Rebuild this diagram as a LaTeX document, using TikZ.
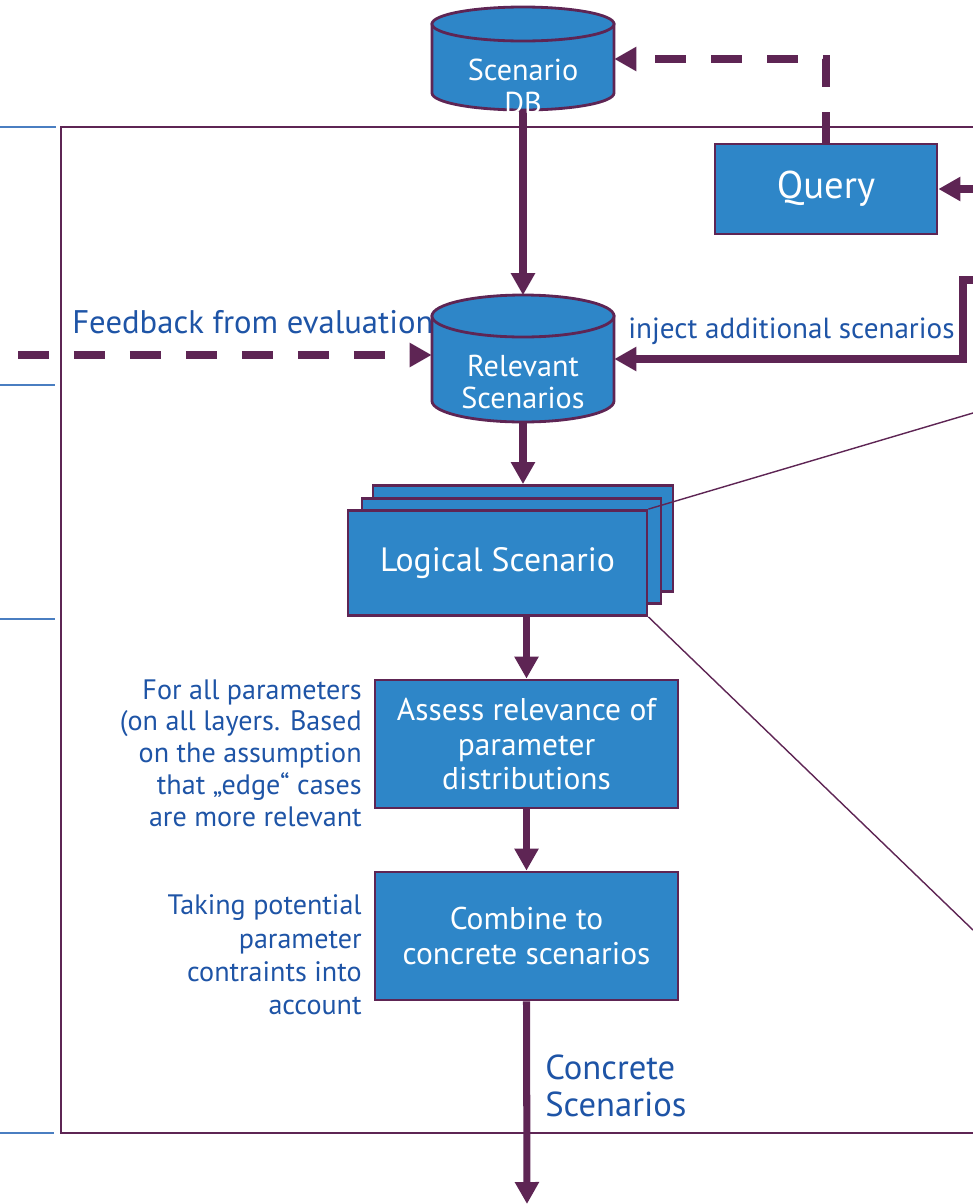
\documentclass[tikz,border=0pt]{standalone}
\usepackage{fontspec}
\setmainfont{PT Sans}
\usetikzlibrary{arrows.meta}
\definecolor{plum}{RGB}{94,37,84}
\definecolor{boxblue}{RGB}{46,134,200}
\definecolor{noteblue}{RGB}{30,84,166}
\definecolor{rulerblue}{RGB}{74,126,193}

\begin{document}
\begin{tikzpicture}[x=0.02cm,y=-0.02cm,
  box/.style={draw=plum, line width=1.6pt, fill=boxblue, text=white, align=center, inner sep=0pt},
  flow/.style={draw=plum, line width=4pt, -{Triangle[length=0.44cm,width=0.46cm]}},
  dashflow/.style={flow, dash pattern=on 0.62cm off 0.5cm},
  thinline/.style={draw=plum, line width=0.8pt},
  frame/.style={draw=plum, line width=1.4pt},
  ruler/.style={draw=rulerblue, line width=0.9pt},
  note/.style={text=noteblue, inner sep=0pt},
  cyl/.style={draw=plum, line width=1.6pt, fill=boxblue},
  holder/.style={inner sep=0pt, minimum width=3.64cm},
  cyltext/.style={text=white, align=center, inner sep=0pt}
]
\useasboundingbox (0,0) rectangle (973,1204);

% outer frame and the side rulers
\draw[frame] (973,127) -- (61,127) -- (61,1133) -- (973,1133);
\draw[ruler] (0,127) -- (56,127);
\draw[ruler] (0,385) -- (55,385);
\draw[ruler] (0,619) -- (55,619);
\draw[ruler] (0,1133) -- (54,1133);

% placeholders giving the two databases their extent
\node[holder, minimum height=2.04cm] (sdb) at (523,59) {};
\node[holder, minimum height=2.54cm] (rel) at (523,359) {};

% free ends of the connectors
\coordinate (qsrc) at (973,189);
\coordinate (injsrc) at (973,280);
\coordinate (fbsrc) at (18,355);
\coordinate (outend) at (527,1204);
\coordinate (zoomA) at (973,413);
\coordinate (zoomB) at (973,930);

% labels
\node[note, anchor=base west, font=\fontsize{18.6}{22}\selectfont] (fblabel) at (72,333) {Feedback from evaluation};
\node[note, anchor=base west, font=\fontsize{16.6}{19}\selectfont] (injlabel) at (628,338) {inject additional scenarios};
\node[note, anchor=east, align=right, font=\fontsize{16}{18.1}\selectfont] (note1) at (362,753)
  {For all parameters\\(on all layers. Based\\on the assumption\\that „edge“ cases\\are more relevant};
\node[note, anchor=east, align=right, font=\fontsize{16}{18.9}\selectfont] (note2) at (362,955)
  {Taking potential\\parameter\\contraints into\\account};
\node[note, anchor=west, align=left, font=\fontsize{19.7}{21}\selectfont] (outlabel) at (545,1086)
  {Concrete\\Scenarios};

% process boxes
\node[box, minimum width=4.44cm, minimum height=1.8cm, font=\fontsize{22}{24}\selectfont] (query) at (826,189) {Query};
\node[box, minimum width=6.0cm, minimum height=2.12cm] (logic3) at (523,538.5) {};
\node[box, minimum width=5.98cm, minimum height=2.1cm] (logic2) at (511.5,551) {};
\node[box, minimum width=5.98cm, minimum height=2.1cm, font=\fontsize{19.2}{22}\selectfont] (logic) at (497.5,563) {Logical Scenario};
\node[box, minimum width=6.06cm, minimum height=2.56cm, font=\fontsize{17.9}{19.5}\selectfont] (assess) at (526.5,744)
  {Assess relevance of\\parameter\\distributions};
\node[box, minimum width=6.06cm, minimum height=2.56cm, font=\fontsize{17.9}{19.8}\selectfont] (combine) at (526.5,936)
  {Combine to\\concrete scenarios};

% connectors
\draw[flow] (sdb.south) -- (rel.north);
\draw[dashflow] (query.north) |- (sdb.east);
\draw[flow] (qsrc) -- (query.east);
\draw[flow] (injsrc) -- ++(-10,0) |- (rel.east);
\draw[dashflow] (fbsrc) -- (fbsrc -| rel.west);
\draw[flow] (rel.south) -- (logic3.north);
\draw[flow] (assess.north |- logic.south) -- (assess.north);
\draw[flow] (assess.south) -- (combine.north);
\draw[flow] (combine.south) -- (outend);
\draw[thinline] (logic.north east) -- (zoomA);
\draw[thinline] (logic.south east) -- (zoomB);

% Scenario DB cylinder
\path[cyl] (432,24) -- (432,93) arc[start angle=180, end angle=0, x radius=91, y radius=17] -- (614,24) -- cycle;
\path[cyl] (523,24) ellipse[x radius=91, y radius=17];
\node[cyltext, font=\fontsize{17.2}{18.7}\selectfont] (sdbtext) at (523,86) {Scenario\\DB};

% Relevant Scenarios cylinder
\path[cyl] (432,316) -- (432,401) arc[start angle=180, end angle=0, x radius=91, y radius=21] -- (614,316) -- cycle;
\path[cyl] (523,316) ellipse[x radius=91, y radius=21];
\node[cyltext, font=\fontsize{17.2}{18.7}\selectfont] (reltext) at (523,382) {Relevant\\Scenarios};

\end{tikzpicture}
\end{document}
